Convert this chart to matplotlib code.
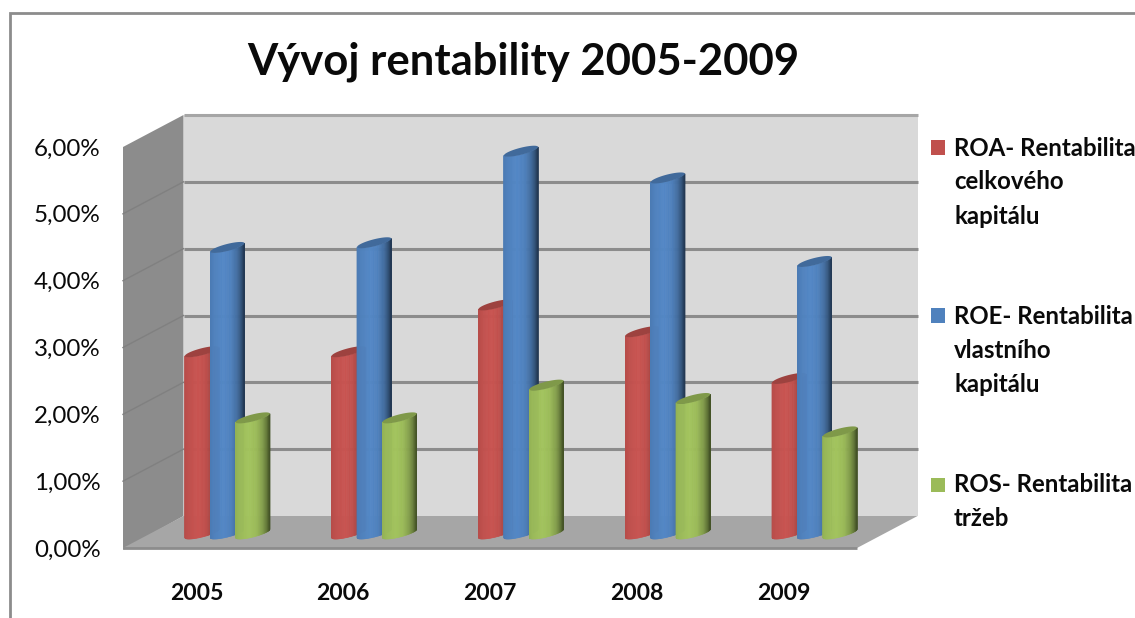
import numpy as np
import matplotlib
matplotlib.use("Agg")
import matplotlib.pyplot as plt
from matplotlib.collections import PolyCollection
from matplotlib.lines import Line2D
from matplotlib.patches import Polygon, Rectangle

years = ["2005", "2006", "2007", "2008", "2009"]
roa = [2.72, 2.72, 3.42, 3.02, 2.32]
roe = [4.28, 4.35, 5.72, 5.32, 4.07]
ros = [1.73, 1.73, 2.22, 2.02, 1.52]
y_ticks = [0, 1, 2, 3, 4, 5, 6]
y_labels = ["0,00%", "1,00%", "2,00%", "3,00%", "4,00%", "5,00%", "6,00%"]
title = "Vývoj rentability 2005-2009"
series_names = ["ROA- Rentabilita\ncelkového\nkapitálu",
                "ROE- Rentabilita\nvlastního\nkapitálu",
                "ROS- Rentabilita\ntržeb"]
colors = ["#C0504D", "#4F81BD", "#9BBB59"]

W, H = 1135, 618
plt.rcParams["font.family"] = ["Lato", "DejaVu Sans"]
fig = plt.figure(figsize=(W / 100, H / 100), dpi=100, facecolor="white")

L, R, T, B = 123, 857, 147, 548
ax = fig.add_axes([L / W, 1 - B / H, (R - L) / W, (B - T) / H])
ax.set_xlim(0, 5)
ax.set_ylim(0, 6)
ax.patch.set_visible(False)
for s in ax.spines.values():
    s.set_visible(False)
PX = 5 / (R - L)
PY = 6 / (B - T)
DX, DY = 60.5 * PX, 32 * PY


def wall(pts, color, z=1):
    ax.add_patch(Polygon(pts, closed=True, facecolor=color, edgecolor="none",
                         clip_on=False, zorder=z))


wall([(DX, DY), (5 + DX, DY), (5 + DX, 6 + DY), (DX, 6 + DY)], "#D9D9D9")
wall([(0, -2 * PY), (DX, DY), (DX, 6 + DY), (0, 6)], "#8C8C8C")
wall([(0, 0), (DX, DY), (5 + DX, DY), (5, 0)], "#A6A6A6")

for v in y_ticks[1:]:
    c = "#A6A6A6" if v == 6 else "#8C8C8C"
    ax.plot([DX, 5 + DX], [v + DY, v + DY], color=c, lw=2.2, clip_on=False, zorder=2,
            solid_capstyle="butt")
    if v < 6:
        ax.plot([0, DX], [v, v + DY], color="#808080", lw=1.0, clip_on=False, zorder=2)
ax.plot([0, 5], [0, 0], color="#8C8C8C", lw=2, clip_on=False, zorder=2, solid_capstyle="butt")

RX1, RX2, RY = 11, 13, 5.5
tL = np.arctan2(-RX2, -RX1)
theta = np.linspace(tL, tL + np.pi, 41)
front_x = (RX1 * np.cos(theta) + RX2 * np.sin(theta)) * PX
front_y = (RY * np.sin(theta)) * PY
full = np.linspace(0, 2 * np.pi, 80)
ell_x = (RX1 * np.cos(full) + RX2 * np.sin(full)) * PX
ell_y = (RY * np.sin(full)) * PY
base_shift = 14.5 * PY
shade_t = [0.0, 0.12, 0.4, 0.62, 0.8, 0.92, 1.0]
shade_k = [0.95, 1.0, 1.05, 1.0, 0.84, 0.64, 0.44]


def cylinder(cx, value, color, z):
    rgb = np.array(matplotlib.colors.to_rgb(color))
    y0 = base_shift
    y1 = base_shift + value
    polys, cols = [], []
    t = (front_x - front_x.min()) / (front_x.max() - front_x.min())
    for i in range(len(theta) - 1):
        xa, xb = cx + front_x[i], cx + front_x[i + 1]
        polys.append([(xa, y0 + front_y[i]), (xb, y0 + front_y[i + 1]),
                      (xb, y1 + front_y[i + 1]), (xa, y1 + front_y[i])])
        k = np.interp((t[i] + t[i + 1]) / 2, shade_t, shade_k)
        cols.append(np.clip(rgb * k, 0, 1))
    ax.add_collection(PolyCollection(polys, facecolors=cols, edgecolors=cols, linewidths=0.5,
                                     clip_on=False, zorder=z))
    ax.fill(cx + ell_x, y1 + ell_y, color=np.clip(rgb * 0.82, 0, 1), lw=0, clip_on=False,
            zorder=z + 0.1)


centers = np.arange(len(years)) + 0.5
offsets = np.array([5.6, 31.0, 56.4]) * PX
for cat in range(len(years)):
    for sidx, vals in enumerate([roa, roe, ros]):
        cylinder(centers[cat] + offsets[sidx], vals[cat], colors[sidx], 3 + sidx + cat * 0.01)

ax.set_xticks(centers, years, fontsize=16.6, fontweight="bold", color="#0A0A0A")
ax.set_yticks(y_ticks, y_labels, fontsize=17.4, color="#0A0A0A")
ax.tick_params(axis="both", length=0)
ax.tick_params(axis="x", pad=25)
ax.tick_params(axis="y", pad=16)

fig.text(523.5 / W, 1 - 62 / H, title, ha="center", va="center", fontsize=31.4,
         fontweight="bold", color="#0A0A0A")

tops = [148, 316, 485]
for y, name, c in zip(tops, series_names, colors):
    fig.patches.append(Rectangle((931 / W, 1 - (y + 7) / H), 14.5 / W, 14.5 / H,
                                 transform=fig.transFigure, facecolor=c, edgecolor="none"))
    for j, line in enumerate(name.split("\n")):
        fig.text(954 / W, 1 - (y + j * 34) / H, line, ha="left", va="center",
                 fontsize=17.3, fontweight="bold", color="#0A0A0A")

fig.add_artist(Line2D([1135 / W, 9.5 / W, 9.5 / W], [1 - 12.5 / H, 1 - 12.5 / H, 0],
                      transform=fig.transFigure, color="#8C8C8C", lw=2, solid_joinstyle="miter"))

fig.savefig("out.png", dpi=100, facecolor="white")
